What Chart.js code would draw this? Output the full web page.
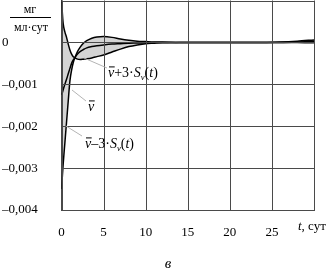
<!DOCTYPE html>
<html>
<head>
<meta charset="utf-8">
<script src="https://cdn.jsdelivr.net/npm/chart.js@4"></script>
<style>
  html, body { margin: 0; padding: 0; background: #fff; }
  #wrap { width: 332px; height: 270px; }
</style>
</head>
<body>
<div id="wrap"><canvas id="c" width="332" height="270"></canvas></div>
<script>
// time, days
const tDays = [0, 0.1, 0.2, 0.4, 0.6, 0.8, 1.0, 1.2, 1.4, 1.6, 1.9, 2.2, 2.6, 3.0, 3.6, 4.2, 5, 6, 7, 8, 9, 10, 11, 12, 14, 16, 18, 20, 22, 24, 26, 28, 30];
// v + 3*S (starts high)
const upperVals = [0.0011, 0.0007, 0.00045, 0.00025, 0.00012, -0.00004, -0.00018, -0.00028, -0.00034, -0.00037, -0.0004, -0.00041, -0.0004, -0.00039, -0.00037, -0.00034, -0.0003, -0.00023, -0.00016, -0.0001, -0.00006, -0.00003, -0.00002, -0.00001, 0, 0, 0, 0, 0, 0, 0, 0, -0.00001];
// mean v
const meanVals = [-0.00125, -0.0012, -0.00113, -0.001, -0.00088, -0.00075, -0.00062, -0.0005, -0.00042, -0.00036, -0.00028, -0.00022, -0.00017, -0.00013, -0.0001, -0.00008, -0.00006, -0.00004, -0.00003, -0.00002, -0.000015, -0.00001, -0.000005, 0, 0, 0, 0, 0, 0, 0, 0, 0.00001, 0.00003];
// v - 3*S (starts low)
const lowerVals = [-0.0035, -0.0032, -0.0029, -0.0024, -0.0019, -0.0014, -0.00092, -0.00066, -0.00048, -0.00036, -0.00022, -0.00012, -0.00002, 0.00004, 0.0001, 0.00013, 0.00014, 0.00012, 0.00008, 0.00005, 0.00003, 0.00002, 0.00001, 0.00001, 0, 0, 0, 0, 0, 0, 0.00001, 0.00003, 0.00006];

const xMin = 0, xMax = 30, xStep = 5;
const yMin = -0.004, yMax = 0.001, yStep = 0.001;

const serif = '"Liberation Serif", "DejaVu Serif", serif';
const pts = vals => tDays.map((t, i) => ({ x: t, y: vals[i] }));

function yLabel(v) {
  const r = Math.round(v * 1000);
  if (r === 1) return '';
  if (r === 0) return '0';
  return '\u20130,00' + (-r);
}

// draw a run of text pieces: [text, italic, subscript, overbar]
function drawRun(ctx, x, y, parts, size) {
  let cx = x;
  parts.forEach(([txt, it, sub, bar]) => {
    const fs = sub ? size * 0.62 : size;
    ctx.font = (it ? 'italic ' : '') + fs + 'px ' + serif;
    const w = ctx.measureText(txt).width;
    ctx.fillText(txt, cx, sub ? y + size * 0.22 : y);
    if (bar) {
      ctx.beginPath();
      ctx.moveTo(cx + 1, y - size * 0.72);
      ctx.lineTo(cx + w + 0.5, y - size * 0.72);
      ctx.lineWidth = 1;
      ctx.stroke();
    }
    cx += w;
  });
}

function leader(ctx, x1, y1, x2, y2) {
  ctx.save();
  ctx.strokeStyle = '#b4b4b4';
  ctx.lineWidth = 1;
  ctx.beginPath();
  ctx.moveTo(x1, y1);
  ctx.lineTo(x2, y2);
  ctx.stroke();
  ctx.restore();
}

// grid from the scales
function gridLines(chart) {
  const { ctx, chartArea: a, scales } = chart;
  ctx.save();
  ctx.strokeStyle = '#4a4a4a';
  ctx.lineWidth = 1;
  ctx.beginPath();
  for (let v = xMin; v <= xMax; v += xStep) {
    const px = Math.round(scales.x.getPixelForValue(v)) + 0.5;
    ctx.moveTo(px, a.top);
    ctx.lineTo(px, a.bottom);
  }
  for (let k = 0; k <= 5; k++) {
    const py = Math.round(scales.y.getPixelForValue(yMin + k * yStep)) + 0.5;
    ctx.moveTo(a.left, py);
    ctx.lineTo(a.right, py);
  }
  ctx.stroke();
  ctx.restore();
}

const textPlugin = {
  id: 'texts',
  afterDraw(chart) {
    const ctx = chart.ctx;
    gridLines(chart);
    ctx.save();
    ctx.fillStyle = '#000';
    ctx.strokeStyle = '#000';
    ctx.textBaseline = 'alphabetic';
    // unit fraction
    ctx.font = '12px ' + serif;
    ctx.textAlign = 'center';
    ctx.fillText('мг', 30, 13);
    ctx.fillText('мл·сут', 31, 31);
    ctx.beginPath();
    ctx.moveTo(10, 17.5);
    ctx.lineTo(51, 17.5);
    ctx.lineWidth = 1;
    ctx.stroke();
    // axis title at x = 30
    ctx.textAlign = 'left';
    drawRun(ctx, 298, 230, [['t', true], [', сут', false]], 13);
    // caption
    ctx.font = 'italic 15px ' + serif;
    ctx.textAlign = 'center';
    ctx.fillText('в', 168, 268);
    ctx.textAlign = 'left';

    // annotations
    leader(ctx, 84, 58, 107, 68);
    drawRun(ctx, 108, 77, [['v', true, false, true], ['+3·', false], ['S', true], ['v', true, true], ['(', false], ['t', true], [')', false]], 14);
    leader(ctx, 72, 90, 86, 101);
    drawRun(ctx, 88, 111, [['v', true, false, true]], 14);
    leader(ctx, 66, 126, 82, 136);
    drawRun(ctx, 85, 148, [['v', true, false, true], ['\u20133·', false], ['S', true], ['v', true, true], ['(', false], ['t', true], [')', false]], 14);
    ctx.restore();
  }
};

const lineStyle = {
  borderColor: '#000',
  borderWidth: 1.5,
  pointRadius: 0,
  cubicInterpolationMode: 'monotone'
};

new Chart(document.getElementById('c'), {
  type: 'line',
  data: {
    datasets: [
      { ...lineStyle, label: 'upper', data: pts(upperVals), fill: { target: 2 }, backgroundColor: 'rgba(0,0,0,0.17)' },
      { ...lineStyle, label: 'mean', data: pts(meanVals), fill: false },
      { ...lineStyle, label: 'lower', data: pts(lowerVals), fill: false }
    ]
  },
  options: {
    responsive: false,
    animation: false,
    layout: { padding: { left: 2, top: 0.5, right: 18, bottom: 0 } },
    plugins: {
      legend: { display: false },
      tooltip: { enabled: false },
      filler: { drawTime: 'beforeDatasetsDraw' }
    },
    scales: {
      x: {
        type: 'linear',
        min: xMin,
        max: xMax,
        afterFit: s => { s.height = 60; s.paddingLeft = 0; s.paddingRight = 0; },
        grid: { display: false },
        border: { color: '#4a4a4a', width: 1 },
        ticks: {
          stepSize: xStep,
          padding: 7,
          color: '#000',
          font: { family: serif, size: 13 },
          maxRotation: 0,
          callback: v => (v === 30 ? '' : String(v))
        }
      },
      y: {
        min: yMin,
        max: yMax,
        afterFit: s => { s.width = 59.5; s.paddingTop = 0; s.paddingBottom = 0; },
        grid: { display: false },
        border: { color: '#4a4a4a', width: 1 },
        ticks: {
          stepSize: yStep,
          crossAlign: 'far',
          color: '#000',
          font: { family: serif, size: 13 },
          callback: v => yLabel(v)
        }
      }
    }
  },
  plugins: [textPlugin]
});
</script>
</body>
</html>
